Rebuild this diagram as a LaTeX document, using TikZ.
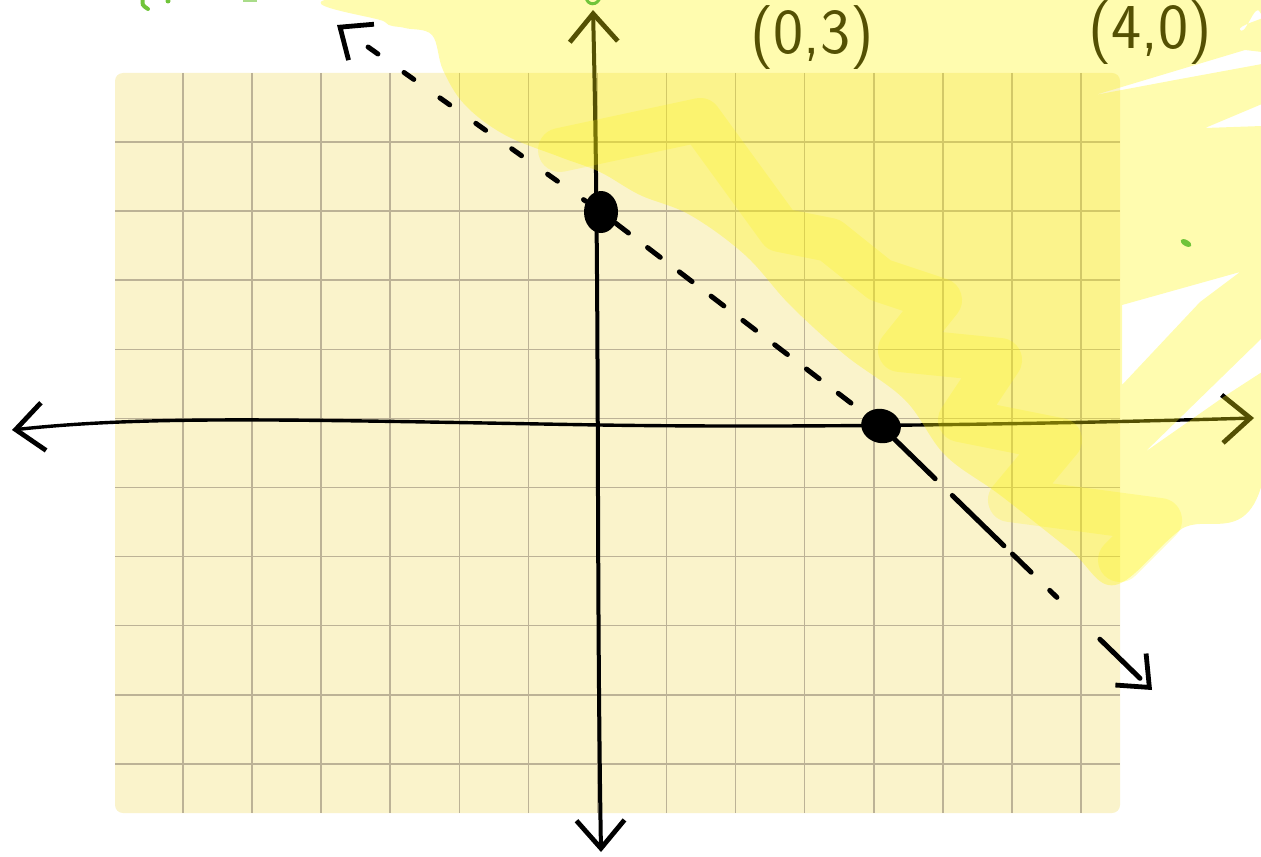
\documentclass[tikz,border=0pt]{standalone}
\usetikzlibrary{arrows.meta,positioning,calc,shapes.geometric}
\definecolor{paper}{RGB}{250,243,203}
\definecolor{gridc}{RGB}{188,178,150}
\definecolor{hilite}{RGB}{255,245,12}
\definecolor{greenink}{RGB}{112,196,58}

\begin{document}
\begin{tikzpicture}[x=0.5pt, y=-0.5pt,
  gridline/.style={draw=gridc, line width=0.75pt},
  axisline/.style={line width=1.7pt, line cap=round},
  tips/.style={arrows={Straight Barb[length=14pt, width=24pt, line width=2.4pt]-Straight Barb[length=14pt, width=24pt, line width=2.4pt]}},
  dot/.style={ellipse, fill=black, inner sep=0pt},
  handdash/.style={line width=2.5pt, line cap=round},
  lbl/.style={font=\sffamily\fontsize{32}{32}\selectfont, inner sep=0pt},
  shade/.style={fill=hilite, fill opacity=0.33},
  scribble/.style={draw=hilite, draw opacity=0.22, line width=22pt, line cap=round, line join=round}
]
\useasboundingbox (0,0) rectangle (1261,856);
% graph paper
\fill[paper, rounded corners=4pt] (115,73) rectangle (1120,813);
\foreach \i in {0,...,13}
  \draw[gridline] ({183+69.08*\i},73) -- ({183+69.08*\i},813);
\foreach \j in {0,...,9}
  \draw[gridline] (115,{142+69.1*\j}) -- (1120,{142+69.1*\j});
% axes
\coordinate (xl) at (12,430);
\coordinate (xr) at (1254,418);
\coordinate (yt) at (593,10);
\coordinate (yb) at (601,852);
\draw[axisline, tips] (xl) .. controls (150,415) and (300,420) .. (600,425)
  .. controls (800,428) and (1050,424) .. (xr);
\draw[axisline, line width=2pt, tips] (yt) .. controls (600,300) and (596,550) .. (yb);
% labels
\node[lbl] (lblA) at (812,38) {(0,3)};
\node[lbl] (lblB) at (1150,33) {(4,0)};
% shaded side, with the gaps left by the marker
\fill[shade, even odd rule] plot[smooth cycle, tension=0.6] coordinates {(382,-5) (1215,-5)
  (1240,30) (1265,45) (1265,470) (1180,530) (1115,585) (1070,550) (1000,495)
  (945,455) (905,400) (845,355) (790,305) (745,255) (690,215) (640,195)
  (600,172) (560,157) (505,135) (465,105) (443,70) (432,35) (405,28) (385,22)}
  (1095,95) -- (1245,50) -- (1262,52) -- (1262,64) -- (1175,80) -- cycle
  (1205,128) -- (1262,104) -- (1262,126) -- cycle
  (1122,305) -- (1240,272) -- (1200,302) -- (1122,385) -- cycle
  (1145,452) -- (1262,338) -- (1262,372) -- (1225,396) -- cycle;
\draw[scribble] (560,150) -- (700,120) -- (780,230) -- (830,240) -- (880,280)
  -- (940,300) -- (900,350) -- (1000,360) -- (960,420) -- (1060,440)
  -- (1010,500) -- (1160,520) -- (1120,560);
% bits of green ink
\draw[greenink, line width=2pt, line cap=round] (143,-2) .. controls (142,5) .. (148,9);
\fill[greenink] (168,1) circle (2.5);
\draw[greenink!60, line width=2pt] (243,0) -- (257,0);
\draw[greenink, line width=1.5pt] (586,-3) .. controls (587,6) and (598,6) .. (600,-3);
\fill[greenink, rotate around={60:(1186,243)}] (1186,243) ellipse (3 and 6);
% boundary line and intercepts
\node[dot, minimum width=17pt, minimum height=21pt] (pA) at (601,212) {};
\node[dot, minimum width=20pt, minimum height=17pt, rotate=-15] (pB) at (881,426) {};
\coordinate (dl) at (337,25);
\coordinate (dr) at (1152,690);
\draw[handdash, dash pattern=on 6pt off 16pt, dash phase=6pt,
  arrows={Straight Barb[length=13pt, width=22pt, line width=2.4pt]-}] (dl) -- (pA);
\draw[handdash, dash pattern=on 8pt off 12pt] (pA) -- (pB);
\draw[handdash, dash pattern=on 28pt off 12pt on 36pt off 6pt on 13pt off 13pt on 5pt off 30pt,
  -{Straight Barb[length=13pt, width=22pt, line width=2.4pt]}] (pB) -- (dr);
\end{tikzpicture}
\end{document}
